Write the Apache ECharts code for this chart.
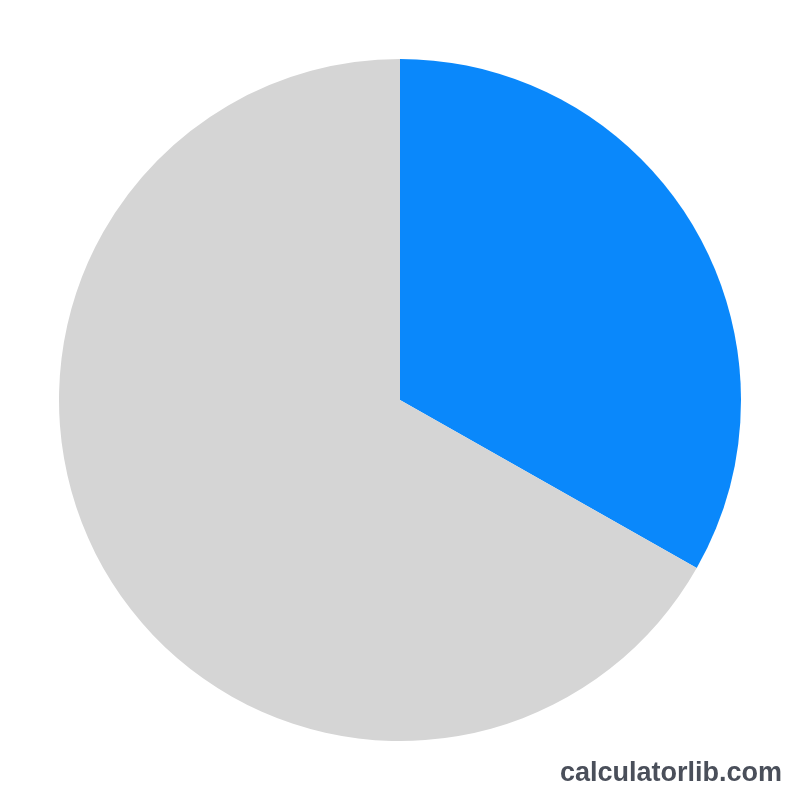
<!DOCTYPE html>
<html>
<head>
<meta charset="utf-8">
<script src="https://cdn.jsdelivr.net/npm/echarts@6/dist/echarts.min.js"></script>
<style>html,body{margin:0;padding:0;background:#fff;}#c{width:800px;height:800px;}</style>
</head>
<body>
<div id="c"></div>
<script>
const categories = ['Part', 'Remainder'];
const values = [33.2, 66.8];
const colors = ['#0a88fb', '#d5d5d5'];

const chart = echarts.init(document.getElementById('c'));
chart.setOption({
  backgroundColor: '#ffffff',
  animation: false,
  graphic: [{
    type: 'text',
    right: 18,
    bottom: 13,
    style: {
      text: 'calculatorlib.com',
      font: 'bold 27px "Liberation Sans", Arial, sans-serif',
      fill: '#4a4f5a'
    }
  }],
  series: [{
    type: 'pie',
    center: [400, 400],
    radius: 341,
    startAngle: 90,
    clockwise: true,
    label: { show: false },
    labelLine: { show: false },
    itemStyle: { borderWidth: 0 },
    emphasis: { disabled: true },
    data: categories.map((n, i) => ({ name: n, value: values[i], itemStyle: { color: colors[i] } }))
  }]
});
</script>
</body>
</html>
